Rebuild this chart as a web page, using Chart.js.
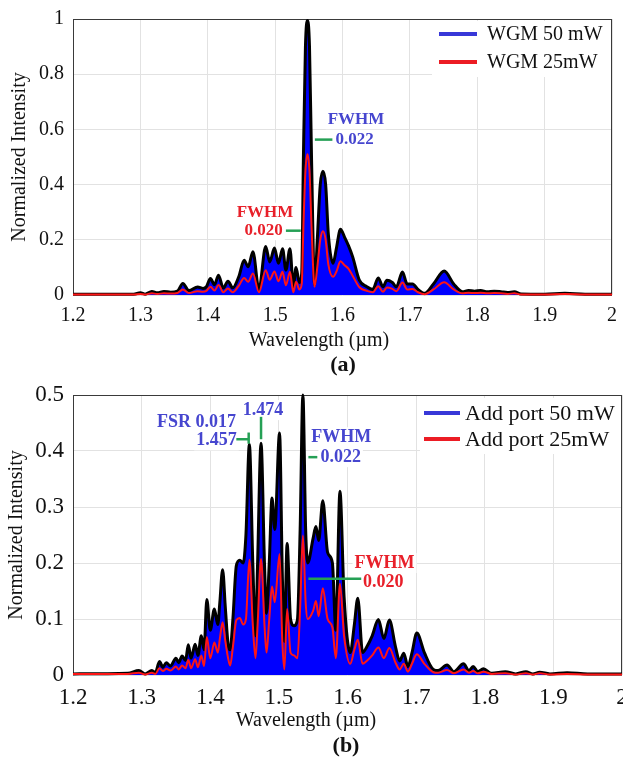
<!DOCTYPE html>
<html lang="en">
<head>
<meta charset="UTF-8">
<title>WGM and Add port spectra</title>
<script src="https://cdn.jsdelivr.net/npm/chart.js"></script>
<style>
  html, body { margin: 0; padding: 0; background: #fff; }
  canvas { display: block; }
</style>
</head>
<body>
<canvas id="chartA" width="623" height="380"></canvas>
<canvas id="chartB" width="623" height="383"></canvas>
<script>
// ---- panel (a): WGM spectra ----
const wlA = [1.20, 1.25, 1.29, 1.30, 1.307, 1.317, 1.325, 1.335, 1.345, 1.355, 1.363, 1.372, 1.385, 1.393, 1.398,
  1.404, 1.410, 1.416, 1.423, 1.430, 1.437, 1.446, 1.454, 1.460, 1.467, 1.476, 1.486, 1.492, 1.499, 1.505,
  1.511, 1.516, 1.522, 1.527, 1.531, 1.536, 1.5395, 1.542, 1.545, 1.548, 1.551, 1.554, 1.5585,
  1.563, 1.567, 1.571, 1.575, 1.579, 1.586, 1.591, 1.597, 1.603, 1.609, 1.615, 1.625, 1.636,
  1.645, 1.653, 1.660, 1.666, 1.674, 1.680, 1.689, 1.696, 1.704,
  1.712, 1.722, 1.735, 1.751, 1.765, 1.778, 1.787, 1.796, 1.805, 1.815, 1.825, 1.835, 1.845, 1.855, 1.865,
  1.90, 1.93, 1.96, 2.00];
const wgm50 = [0.003, 0.003, 0.003, 0.008, 0.003, 0.013, 0.008, 0.013, 0.010, 0.014, 0.042, 0.016, 0.029, 0.024, 0.030,
  0.060, 0.037, 0.072, 0.025, 0.050, 0.026, 0.066, 0.126, 0.102, 0.157, 0.020, 0.176, 0.120, 0.170, 0.115,
  0.168, 0.090, 0.168, 0.030, 0.100, 0.045, 0.080, 0.500, 0.900, 0.995, 0.900, 0.500, 0.036,
  0.220, 0.400, 0.448, 0.400, 0.220, 0.115, 0.170, 0.238, 0.210, 0.178, 0.139, 0.054, 0.030,
  0.020, 0.062, 0.030, 0.053, 0.045, 0.030, 0.083, 0.040, 0.040,
  0.020, 0.006, 0.040, 0.087, 0.040, 0.012, 0.016, 0.014, 0.016, 0.012, 0.014, 0.012, 0.009, 0.012, 0.004,
  0.003, 0.006, 0.003, 0.003];
const wgm25 = [0.002, 0.002, 0.002, 0.004, 0.002, 0.006, 0.004, 0.006, 0.005, 0.007, 0.020, 0.007, 0.014, 0.012, 0.015,
  0.030, 0.016, 0.036, 0.010, 0.024, 0.010, 0.033, 0.062, 0.048, 0.078, 0.010, 0.090, 0.055, 0.085, 0.050,
  0.084, 0.035, 0.084, 0.010, 0.048, 0.020, 0.040, 0.250, 0.450, 0.510, 0.450, 0.250, 0.030,
  0.110, 0.200, 0.231, 0.200, 0.110, 0.066, 0.085, 0.122, 0.108, 0.095, 0.070, 0.028, 0.015,
  0.010, 0.032, 0.012, 0.027, 0.022, 0.014, 0.045, 0.020, 0.022,
  0.010, 0.003, 0.020, 0.046, 0.020, 0.006, 0.008, 0.007, 0.008, 0.006, 0.007, 0.006, 0.004, 0.006, 0.002,
  0.002, 0.004, 0.002, 0.002];

// ---- panel (b): Add port spectra ----
const wlB = [1.20, 1.28, 1.296, 1.305, 1.315, 1.320, 1.326, 1.331, 1.336, 1.342, 1.350, 1.354, 1.359, 1.364, 1.368,
  1.372, 1.378, 1.382, 1.387, 1.391, 1.395, 1.400, 1.406, 1.411, 1.414, 1.418, 1.422, 1.426, 1.429, 1.433,
  1.438, 1.443, 1.448, 1.452, 1.457, 1.462, 1.466, 1.469, 1.474, 1.479, 1.482, 1.486, 1.490, 1.494, 1.501,
  1.505, 1.508, 1.512, 1.517, 1.522, 1.527, 1.531, 1.535, 1.539, 1.542, 1.550, 1.554, 1.558, 1.564, 1.571,
  1.578, 1.583, 1.589, 1.595, 1.604, 1.610, 1.615, 1.622, 1.628, 1.636, 1.645, 1.653, 1.661, 1.670, 1.676,
  1.682, 1.688, 1.694, 1.701, 1.712, 1.725, 1.732, 1.745, 1.755, 1.769, 1.777, 1.783, 1.790, 1.798, 1.810,
  1.830, 1.845, 1.860, 1.870, 1.880, 1.895, 1.920, 1.950, 2.00];
const add50 = [0.002, 0.003, 0.008, 0.002, 0.008, 0.004, 0.024, 0.014, 0.022, 0.016, 0.030, 0.022, 0.034, 0.026, 0.054,
  0.030, 0.055, 0.035, 0.070, 0.045, 0.135, 0.080, 0.118, 0.090, 0.130, 0.188, 0.120, 0.055, 0.045, 0.100,
  0.195, 0.205, 0.200, 0.250, 0.412, 0.200, 0.070, 0.200, 0.414, 0.200, 0.110, 0.200, 0.316, 0.260, 0.432,
  0.180, 0.060, 0.235, 0.100, 0.088, 0.098, 0.260, 0.500, 0.260, 0.200, 0.245, 0.265, 0.240, 0.311, 0.219,
  0.200, 0.080, 0.328, 0.140, 0.040, 0.090, 0.137, 0.040, 0.050, 0.070, 0.099, 0.065, 0.098, 0.050, 0.025,
  0.039, 0.015, 0.040, 0.075, 0.040, 0.010, 0.008, 0.018, 0.006, 0.020, 0.008, 0.015, 0.006, 0.011, 0.003,
  0.006, 0.002, 0.006, 0.002, 0.005, 0.002, 0.004, 0.002, 0.002];
const add25 = [0.002, 0.002, 0.004, 0.001, 0.004, 0.002, 0.012, 0.007, 0.011, 0.008, 0.015, 0.010, 0.017, 0.012, 0.027,
  0.012, 0.028, 0.014, 0.035, 0.016, 0.068, 0.030, 0.058, 0.040, 0.065, 0.094, 0.060, 0.030, 0.017, 0.050,
  0.098, 0.102, 0.090, 0.100, 0.206, 0.090, 0.030, 0.090, 0.207, 0.090, 0.040, 0.100, 0.158, 0.130, 0.216,
  0.060, 0.010, 0.118, 0.040, 0.035, 0.030, 0.120, 0.249, 0.130, 0.100, 0.115, 0.132, 0.105, 0.155, 0.100,
  0.085, 0.030, 0.163, 0.070, 0.020, 0.045, 0.063, 0.020, 0.025, 0.035, 0.049, 0.030, 0.048, 0.022, 0.010,
  0.020, 0.006, 0.020, 0.037, 0.020, 0.005, 0.004, 0.009, 0.003, 0.010, 0.004, 0.007, 0.003, 0.006, 0.002,
  0.003, 0.001, 0.003, 0.001, 0.003, 0.001, 0.002, 0.001, 0.001];

const SERIF = "'Liberation Serif', 'Times New Roman', serif";
const BLUE_TXT = '#4646cf';
const RED_TXT = '#e8202a';

const pts = (xs, ys) => xs.map((w, i) => ({ x: w, y: ys[i] }));
// MATLAB-like tick text: 1.2, 2, 0.8, 1
const tickText = v => String(+(+v).toFixed(3));

// draws box, axis titles, panel letter, inline legend, FWHM/FSR notes
const decor = {
  id: 'decor',
  beforeDatasetsDraw(chart) {
    const { ctx, chartArea: ca } = chart;
    ctx.save();
    ctx.strokeStyle = '#3a3a3a';
    ctx.lineWidth = 1;
    ctx.strokeRect(ca.left + 0.5, ca.top + 0.5, ca.width - 1, ca.height - 1);
    ctx.restore();
  },
  afterDraw(chart, args, o) {
    const { ctx, chartArea: ca, scales: { x, y } } = chart;
    ctx.save();

    // notes with white background
    ctx.textAlign = 'center';
    ctx.textBaseline = 'middle';
    ctx.font = 'bold ' + o.noteSize + 'px ' + SERIF;
    o.notes.forEach(n => {
      const px = x.getPixelForValue(n.x), py = y.getPixelForValue(n.y);
      const w = ctx.measureText(n.text).width;
      ctx.fillStyle = '#fff';
      ctx.fillRect(px - w / 2 - 2, py - o.noteSize / 2 - 1, w + 4, o.noteSize + 2);
      ctx.fillStyle = n.color;
      ctx.fillText(n.text, px, py);
    });

    // green markers
    ctx.strokeStyle = '#25a055';
    ctx.lineWidth = 2.5;
    o.marks.forEach(m => {
      ctx.beginPath();
      ctx.moveTo(x.getPixelForValue(m[0]), y.getPixelForValue(m[1]));
      ctx.lineTo(x.getPixelForValue(m[2]), y.getPixelForValue(m[3]));
      ctx.stroke();
    });

    // legend
    const lg = o.legend;
    ctx.fillStyle = '#fff';
    ctx.fillRect(lg.x0, lg.y0, lg.x1 - lg.x0, lg.y1 - lg.y0);
    ctx.textAlign = 'left';
    ctx.font = lg.size + 'px ' + SERIF;
    lg.items.forEach((it, i) => {
      const ly = lg.rowY[i];
      ctx.strokeStyle = it.color;
      ctx.lineWidth = 4;
      ctx.beginPath();
      ctx.moveTo(lg.lineX0, ly);
      ctx.lineTo(lg.lineX1, ly);
      ctx.stroke();
      ctx.fillStyle = '#111';
      ctx.fillText(it.text, lg.textX, ly + 1);
    });

    // axis titles and panel letter
    ctx.fillStyle = '#111';
    ctx.textAlign = 'center';
    ctx.font = o.titleSize + 'px ' + SERIF;
    ctx.fillText('Wavelength (\u00b5m)', o.xTitleX, o.xTitleY);
    ctx.save();
    ctx.translate(o.yTitleX, (ca.top + ca.bottom) / 2);
    ctx.rotate(-Math.PI / 2);
    ctx.fillText('Normalized Intensity', 0, 0);
    ctx.restore();
    ctx.font = 'bold 22px ' + SERIF;
    ctx.fillText(o.panel, o.panelX, o.panelY);
    ctx.restore();
  }
};

function makeChart(id, xs, s50, s25, yMax, yStep, tickSize, pad, axisH, deco) {
  return new Chart(document.getElementById(id), {
    type: 'line',
    data: {
      datasets: [
        {
          label: 's25', data: pts(xs, s25), order: 1,
          borderColor: '#ff1515', borderWidth: 2, fill: false,
          pointRadius: 0, cubicInterpolationMode: 'monotone', clip: 4
        },
        {
          label: 's50', data: pts(xs, s50), order: 2,
          borderColor: '#000', borderWidth: 3, backgroundColor: '#0000ff', fill: 'origin',
          pointRadius: 0, cubicInterpolationMode: 'monotone', clip: 4
        }
      ]
    },
    options: {
      responsive: false,
      animation: false,
      devicePixelRatio: 1,
      layout: { padding: pad },
      plugins: { legend: { display: false }, tooltip: { enabled: false }, decor: deco },
      scales: {
        x: {
          type: 'linear', min: 1.2, max: 2,
          ticks: { stepSize: 0.1, color: '#111', font: { family: SERIF, size: tickSize }, padding: 9,
                   maxRotation: 0, callback: tickText },
          grid: { color: '#e2e2e2', drawTicks: false },
          border: { display: false },
          afterFit(s) { s.height = axisH; s.paddingLeft = 0; s.paddingRight = 0; }
        },
        y: {
          min: 0, max: yMax,
          ticks: { stepSize: yStep, color: '#111', font: { family: SERIF, size: tickSize }, padding: 9,
                   callback: tickText },
          grid: { color: '#e2e2e2', drawTicks: false },
          border: { display: false },
          afterFit(s) { s.width = 73; s.paddingTop = 0; s.paddingBottom = 0; }
        }
      }
    },
    plugins: [decor]
  });
}

makeChart('chartA', wlA, wgm50, wgm25, 1, 0.2, 20, { left: 0, right: 11, top: 19, bottom: 0 }, 85, {
  noteSize: 17, titleSize: 20,
  xTitleX: 319, xTitleY: 341, yTitleX: 20, panel: '(a)', panelX: 343, panelY: 365,
  notes: [
    { text: 'FWHM', x: 1.620, y: 0.635, color: BLUE_TXT },
    { text: '0.022', x: 1.618, y: 0.563, color: BLUE_TXT },
    { text: 'FWHM', x: 1.485, y: 0.300, color: RED_TXT },
    { text: '0.020', x: 1.483, y: 0.233, color: RED_TXT }
  ],
  marks: [[1.559, 0.563, 1.585, 0.563], [1.516, 0.233, 1.538, 0.233]],
  legend: {
    x0: 432, x1: 611, y0: 21, y1: 77, size: 20, lineX0: 439, lineX1: 477, textX: 487, rowY: [34, 62],
    items: [{ text: 'WGM 50 mW', color: '#3838d8' }, { text: 'WGM 25mW', color: '#ec1c24' }]
  }
});

makeChart('chartB', wlB, add50, add25, 0.5, 0.1, 23, { left: 0, right: 1, top: 15, bottom: 0 }, 88, {
  noteSize: 18, titleSize: 20,
  xTitleX: 306, xTitleY: 341, yTitleX: 17, panel: '(b)', panelX: 346, panelY: 366,
  notes: [
    { text: '1.474', x: 1.477, y: 0.473, color: BLUE_TXT },
    { text: 'FSR 0.017', x: 1.380, y: 0.451, color: BLUE_TXT },
    { text: '1.457', x: 1.409, y: 0.419, color: BLUE_TXT },
    { text: 'FWHM', x: 1.591, y: 0.4245, color: BLUE_TXT },
    { text: '0.022', x: 1.590, y: 0.389, color: BLUE_TXT },
    { text: 'FWHM', x: 1.654, y: 0.200, color: RED_TXT },
    { text: '0.020', x: 1.652, y: 0.166, color: RED_TXT }
  ],
  marks: [[1.438, 0.421, 1.456, 0.421], [1.456, 0.433, 1.456, 0.413], [1.474, 0.461, 1.474, 0.421],
          [1.543, 0.389, 1.556, 0.389], [1.543, 0.172, 1.620, 0.172]],
  legend: {
    x0: 420, x1: 621, y0: 18, y1: 74, size: 22, lineX0: 424, lineX1: 460, textX: 465, rowY: [33, 59],
    items: [{ text: 'Add port 50 mW', color: '#3838d8' }, { text: 'Add port 25mW', color: '#ec1c24' }]
  }
});
</script>
</body>
</html>
